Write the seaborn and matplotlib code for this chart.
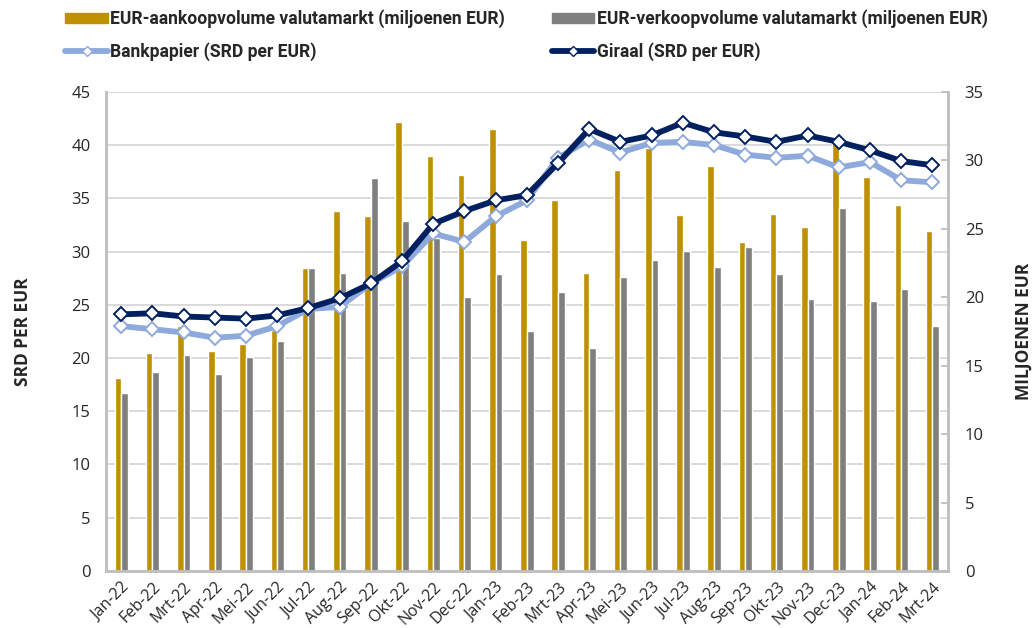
import numpy as np
import matplotlib
matplotlib.use('Agg')
import matplotlib.pyplot as plt
from matplotlib.patches import Patch
from matplotlib.lines import Line2D
import pandas as pd
import seaborn as sns

# data
maanden = ['Jan-22', 'Feb-22', 'Mrt-22', 'Apr-22', 'Mei-22', 'Jun-22', 'Jul-22', 'Aug-22', 'Sep-22',
           'Okt-22', 'Nov-22', 'Dec-22', 'Jan-23', 'Feb-23', 'Mrt-23', 'Apr-23', 'Mei-23', 'Jun-23',
           'Jul-23', 'Aug-23', 'Sep-23', 'Okt-23', 'Nov-23', 'Dec-23', 'Jan-24', 'Feb-24', 'Mrt-24']

aankoop = [14.1, 15.9, 17.9, 16.1, 16.6, 17.6, 22.1, 26.3, 25.9, 32.8, 30.3, 28.9, 32.3, 24.2,
           27.1, 21.8, 29.3, 30.9, 26.0, 29.6, 24.0, 26.1, 25.1, 31.3, 28.8, 26.7, 24.8]
verkoop = [13.0, 14.5, 15.8, 14.4, 15.6, 16.8, 22.1, 21.8, 28.7, 25.6, 24.3, 20.0, 21.7, 17.5,
           20.4, 16.3, 21.5, 22.7, 23.4, 22.2, 23.7, 21.7, 19.9, 26.5, 19.7, 20.6, 17.9]

bankpapier = [23.0, 22.7, 22.4, 21.9, 22.1, 23.0, 24.6, 24.8, 27.0, 28.6, 31.7, 30.9, 33.3, 34.8,
              38.8, 40.5, 39.3, 40.2, 40.3, 40.0, 39.1, 38.8, 39.0, 37.9, 38.4, 36.7, 36.5]
giraal = [24.1, 24.2, 23.9, 23.8, 23.7, 24.0, 24.7, 25.6, 27.0, 29.1, 32.6, 33.8, 34.8, 35.3,
          38.3, 41.5, 40.3, 40.9, 42.1, 41.2, 40.8, 40.3, 40.9, 40.3, 39.5, 38.5, 38.1]

lbl_aankoop = 'EUR-aankoopvolume valutamarkt (miljoenen EUR)'
lbl_verkoop = 'EUR-verkoopvolume valutamarkt (miljoenen EUR)'
lbl_bank = 'Bankpapier (SRD per EUR)'
lbl_giraal = 'Giraal (SRD per EUR)'

srd_ticks = list(range(0, 46, 5))
vol_ticks = list(range(0, 36, 5))

GOUD = '#BF9000'
GRIJS = '#7F7F7F'
LICHTBLAUW = '#8EA9DB'
NAVY = '#002060'
RAND = '#BFBFBF'

sns.set_style('white')
plt.rcParams['font.family'] = ['Open Sans', 'DejaVu Sans']

fig = plt.figure(figsize=(10.35, 6.28), dpi=100)
ax = fig.add_axes([0.1021, 0.0908, 0.8139, 0.763])

# bars on the volume scale (right hand side)
vol = pd.DataFrame({'maand': maanden * 2,
                    'volume': aankoop + verkoop,
                    'reeks': [lbl_aankoop] * len(maanden) + [lbl_verkoop] * len(maanden)})
sns.barplot(data=vol, x='maand', y='volume', hue='reeks', palette=[GOUD, GRIJS],
            width=0.43, saturation=1, gap=0, legend=False, ax=ax, zorder=2)
ax.set_ylim(0, 35)
ax.set_xlim(-0.5, len(maanden) - 0.5)
ax.set_xlabel('')

# horizontal gridlines follow the SRD scale
for v in srd_ticks[1:]:
    ax.axhline(v * 35 / 45, color='#D9D9D9', lw=1.4, zorder=0)

# x axis: labels on the categories, tick marks between them
ax.set_xticks(range(len(maanden)))
ax.set_xticklabels(maanden, rotation=45, ha='right', va='top', rotation_mode='anchor', fontsize=11.5)
ax.tick_params(axis='x', which='major', length=0, pad=6)
ax.set_xticks(np.arange(len(maanden) + 1) - 0.5, minor=True)
ax.tick_params(axis='x', which='minor', direction='out', length=5, width=1.3, color=RAND)

# exchange rate lines (left hand side), drawn on top of the bars
ax2 = ax.twinx()
koers = pd.DataFrame({'pos': np.arange(len(maanden)), 'bank': bankpapier, 'giraal': giraal})
sns.lineplot(data=koers, x='pos', y='bank', color=LICHTBLAUW, lw=4.2, marker='D', markersize=7.5,
             markerfacecolor='white', markeredgecolor=LICHTBLAUW, markeredgewidth=1.4, ax=ax2)
sns.lineplot(data=koers, x='pos', y='giraal', color=NAVY, lw=4.2, marker='D', markersize=7.5,
             markerfacecolor='white', markeredgecolor=NAVY, markeredgewidth=1.4, ax=ax2)
ax2.set_ylim(0, 45)
ax2.set_yticks(srd_ticks)
ax2.yaxis.tick_left()
ax2.yaxis.set_label_position('left')
ax2.tick_params(axis='y', length=0, pad=11, labelsize=12)
ax2.set_ylabel('SRD PER EUR', fontsize=12.5, fontweight='bold', labelpad=28)
ax2.set_xlabel('')
ax2.set_xlim(-0.5, len(maanden) - 0.5)

# twinx moved the bar axis ticks to the left, put them back on the right
ax.yaxis.tick_right()
ax.yaxis.set_label_position('right')
ax.set_yticks(vol_ticks)
ax.tick_params(axis='y', direction='in', length=5, width=1.3, color=RAND, pad=12, labelsize=12)
ax.set_ylabel('MILJOENEN EUR', fontsize=12.5, fontweight='bold', rotation=90, labelpad=22)

for a in (ax, ax2):
    a.spines['top'].set_visible(False)
    for s in ('left', 'right', 'bottom'):
        a.spines[s].set_color(RAND)
        a.spines[s].set_linewidth(1.8)
ax.grid(False)
ax2.grid(False)

# legend across the top
handles = [Patch(color=GOUD), Line2D([], [], color=LICHTBLAUW, lw=4.2, marker='D', markersize=5,
                                     markerfacecolor='white', markeredgecolor=LICHTBLAUW),
           Patch(color=GRIJS), Line2D([], [], color=NAVY, lw=4.2, marker='D', markersize=5,
                                      markerfacecolor='white', markeredgecolor=NAVY)]
labels = [lbl_aankoop, lbl_bank, lbl_verkoop, lbl_giraal]
fig.legend(handles, labels, ncol=2, loc='upper left', bbox_to_anchor=(0.048, 1.01),
           frameon=False, prop={'family': 'Roboto', 'weight': 'bold', 'size': 12.65},
           handlelength=2.4, handleheight=0.55, handletextpad=0.15, columnspacing=2.65,
           labelspacing=0.8)

fig.savefig('out.png', dpi=100)
